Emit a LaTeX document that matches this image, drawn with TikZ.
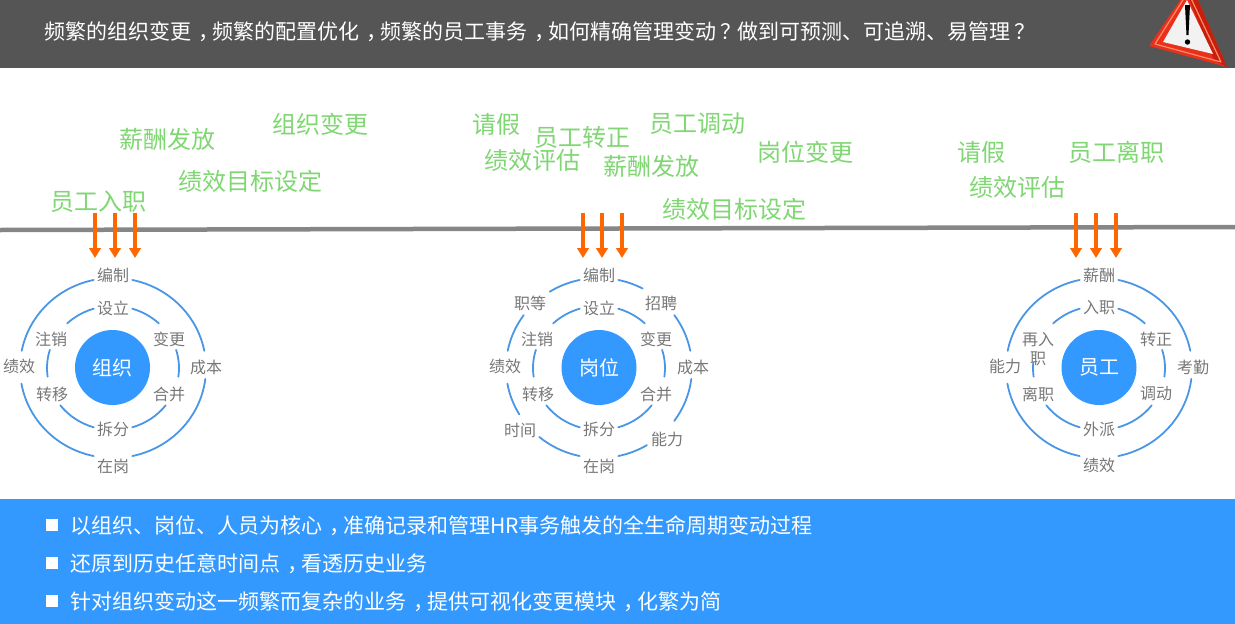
\documentclass[tikz,border=0pt]{standalone}
\usepackage{fontspec}
\setmainfont{Noto Sans CJK SC}
\usetikzlibrary{arrows.meta}
\definecolor{topband}{HTML}{555555}
\definecolor{blueband}{HTML}{3399FF}
\definecolor{ringblue}{HTML}{4A96E6}
\definecolor{labelgray}{HTML}{777777}
\definecolor{evgreen}{HTML}{7FD672}
\definecolor{arroworange}{HTML}{FF6600}
\definecolor{linegray}{HTML}{868686}
\definecolor{signred}{HTML}{E8301A}
\definecolor{signdark}{HTML}{C81E0C}
\definecolor{signlight}{HTML}{FF8A6A}
\definecolor{signwhite}{HTML}{F2F2F2}
\tikzset{
  x=1pt,y=-1pt,
  ring/.style={draw=ringblue,line width=1.8pt,line cap=round},
  lab/.style={text=labelgray,font=\fontsize{16}{17}\selectfont,inner sep=0pt,align=center},
  hub/.style={circle,fill=blueband,minimum size=75pt,inner sep=0pt,text=white,font=\fontsize{20}{22}\selectfont},
  ev/.style={text=evgreen,font=\fontsize{24}{26}\selectfont,inner sep=0pt,anchor=west},
  band/.style={text=white,font=\fontsize{21}{23}\selectfont,inner sep=0pt,anchor=west},
  bul/.style={fill=white,minimum size=12pt,inner sep=0pt},
  flow/.style={draw=arroworange,line width=4pt,-{Triangle[width=11.5pt,length=10pt]}},
}
% full-width comma and question mark, centred in their cell
\newcommand{\fcm}{\hspace{.33em}，\hspace{-.33em}}
\newcommand{\fqm}{\hspace{.22em}？\hspace{-.22em}}
% centre x, centre y, x radius, y radius, start, end
\newcommand{\ringarc}[6]{\draw[ring] ({#1+#3*cos(#5)},{#2-#4*sin(#5)}) arc[start angle=-#5,end angle=-#6,x radius=#3,y radius=#4];}
\newcommand{\innerring}[1]{%
  \ringarc{#1}{368}{66}{62}{73}{46}\ringarc{#1}{368}{66}{62}{17}{-8}\ringarc{#1}{368}{66}{62}{-37}{-73}%
  \ringarc{#1}{368}{66}{62}{107}{134}\ringarc{#1}{368}{66}{62}{163}{188}\ringarc{#1}{368}{66}{62}{217}{253}}
\begin{document}
\begin{tikzpicture}
\useasboundingbox (0,0) rectangle (1235,624);
\begin{scope}
\clip (0,0) rectangle (1235,624);
\fill[topband] (0,0) rectangle (1235,68);
\fill[blueband] (0,499) rectangle (1235,624);
% warning sign
\fill[signred,rounded corners=2pt] (1191,-16) -- (1149,46) -- (1227,67) -- cycle;
\fill[signdark] (1191,-16) -- (1227,67) -- (1214,60) -- (1188,-4) -- cycle;
\draw[signlight,line width=1.2pt,line join=round] (1188,-8) -- (1155,44) -- (1221,62) -- cycle;
\fill[signwhite] (1187,0) -- (1163,42) -- (1213,54) -- cycle;
\fill[black] (1185,5) -- (1190,5) -- (1188.5,35) -- (1186.5,35) -- cycle;
\fill[black] (1187.5,42) circle (2.7);
\end{scope}
\node[band] (title) at (44,32) {频繁的组织变更\fcm 频繁的配置优化\fcm 频繁的员工事务\fcm 如何精确管理变动\fqm 做到可预测、可追溯、易管理\fqm};
% timeline
\coordinate (ll) at (0,230); \coordinate (lr) at (1235,227);
\draw[linegray,line width=4.5pt] (ll) -- (lr);
% events
\node[ev] (e1) at (119.5,139) {薪酬发放};
\node[ev] (e2) at (272.5,124) {组织变更};
\node[ev] (e3) at (178.5,181) {绩效目标设定};
\node[ev] (e4) at (50.5,202) {员工入职};
\node[ev] (e5) at (472.5,124) {请假};
\node[ev] (e6) at (534,137) {员工转正};
\node[ev] (e7) at (649,124) {员工调动};
\node[ev] (e8) at (484.5,160) {绩效评估};
\node[ev] (e9) at (603,166) {薪酬发放};
\node[ev] (e10) at (757,152) {岗位变更};
\node[ev] (e11) at (662.5,209) {绩效目标设定};
\node[ev] (e12) at (957,152) {请假};
\node[ev] (e13) at (1068,152) {员工离职};
\node[ev] (e14) at (969,187) {绩效评估};
% ring 1
\innerring{113}
\ringarc{113}{368}{93}{90}{78}{11}\ringarc{113}{368}{93}{90}{-7}{-78}
\ringarc{113}{368}{93}{90}{102}{169}\ringarc{113}{368}{93}{90}{190}{258}
\node[hub] (h1) at (112.5,367.5) {组织};
\node[lab] (a1) at (113,275) {编制};
\node[lab] (a2) at (113,308) {设立};
\node[lab] (a3) at (169,339) {变更};
\node[lab] (a4) at (51,339) {注销};
\node[lab] (a5) at (19,366) {绩效};
\node[lab] (a6) at (206,367) {成本};
\node[lab] (a7) at (52,394) {转移};
\node[lab] (a8) at (169,394) {合并};
\node[lab] (a9) at (113,429) {拆分};
\node[lab] (a10) at (113,466) {在岗};
% ring 2
\innerring{599}
\foreach \s/\t in {78/62,36/11,-7/-36,-59/-78,102/122,144/169,190/211,230/258}{\ringarc{599}{368}{93}{90}{\s}{\t}}
\node[hub] (h2) at (599,367.5) {岗位};
\node[lab] (b1) at (599,275) {编制};
\node[lab] (b2) at (599,308) {设立};
\node[lab] (b3) at (656,339) {变更};
\node[lab] (b4) at (537,339) {注销};
\node[lab] (b5) at (505,366) {绩效};
\node[lab] (b6) at (693,367) {成本};
\node[lab] (b7) at (538,394) {转移};
\node[lab] (b8) at (656,394) {合并};
\node[lab] (b9) at (599,429) {拆分};
\node[lab] (b10) at (599,466) {在岗};
\node[lab] (b11) at (530,303) {职等};
\node[lab] (b12) at (661,303) {招聘};
\node[lab] (b13) at (520,430) {时间};
\node[lab] (b14) at (667,439) {能力};
% ring 3
\ringarc{1099}{368}{66}{62}{73}{46}\ringarc{1099}{368}{66}{62}{17}{-8}\ringarc{1099}{368}{66}{62}{-37}{-73}
\ringarc{1099}{368}{66}{62}{107}{134}\ringarc{1099}{368}{66}{62}{175}{188}\ringarc{1099}{368}{66}{62}{217}{253}
\ringarc{1099}{368}{93}{90}{78}{11}\ringarc{1099}{368}{93}{90}{-7}{-78}
\ringarc{1099}{368}{93}{90}{102}{169}\ringarc{1099}{368}{93}{90}{190}{258}
\node[hub] (h3) at (1099,367.5) {员工};
\node[lab] (c1) at (1099,275) {薪酬};
\node[lab] (c2) at (1099,308) {入职};
\node[lab] (c3) at (1156,339) {转正};
\node[lab] (c4) at (1038,349.5) {再入\\[2pt]职};
\node[lab] (c5) at (1005,366) {能力};
\node[lab] (c6) at (1193,367) {考勤};
\node[lab] (c7) at (1038,394) {离职};
\node[lab] (c8) at (1156,394) {调动};
\node[lab] (c9) at (1099,429) {外派};
\node[lab] (c10) at (1099,465) {绩效};
% arrows
\foreach \n/\x in {p1/95,p2/115,p3/135,q1/583,q2/602,q3/622,r1/1076,r2/1096,r3/1116}{
  \coordinate (\n s) at (\x,213);
  \coordinate (\n e) at (\x,258);
  \draw[flow] (\n s) -- (\n e);
}
% bullets
\node[bul] (s1) at (52,525) {};
\node[bul] (s2) at (52,563) {};
\node[bul] (s3) at (52,601) {};
\node[band] (t1) at (70,525.5) {以组织、岗位、人员为核心\fcm 准确记录和管理HR事务触发的全生命周期变动过程};
\node[band] (t2) at (70,563.5) {还原到历史任意时间点\fcm 看透历史业务};
\node[band] (t3) at (70,601.5) {针对组织变动这一频繁而复杂的业务\fcm 提供可视化变更模块\fcm 化繁为简};
\end{tikzpicture}
\end{document}
